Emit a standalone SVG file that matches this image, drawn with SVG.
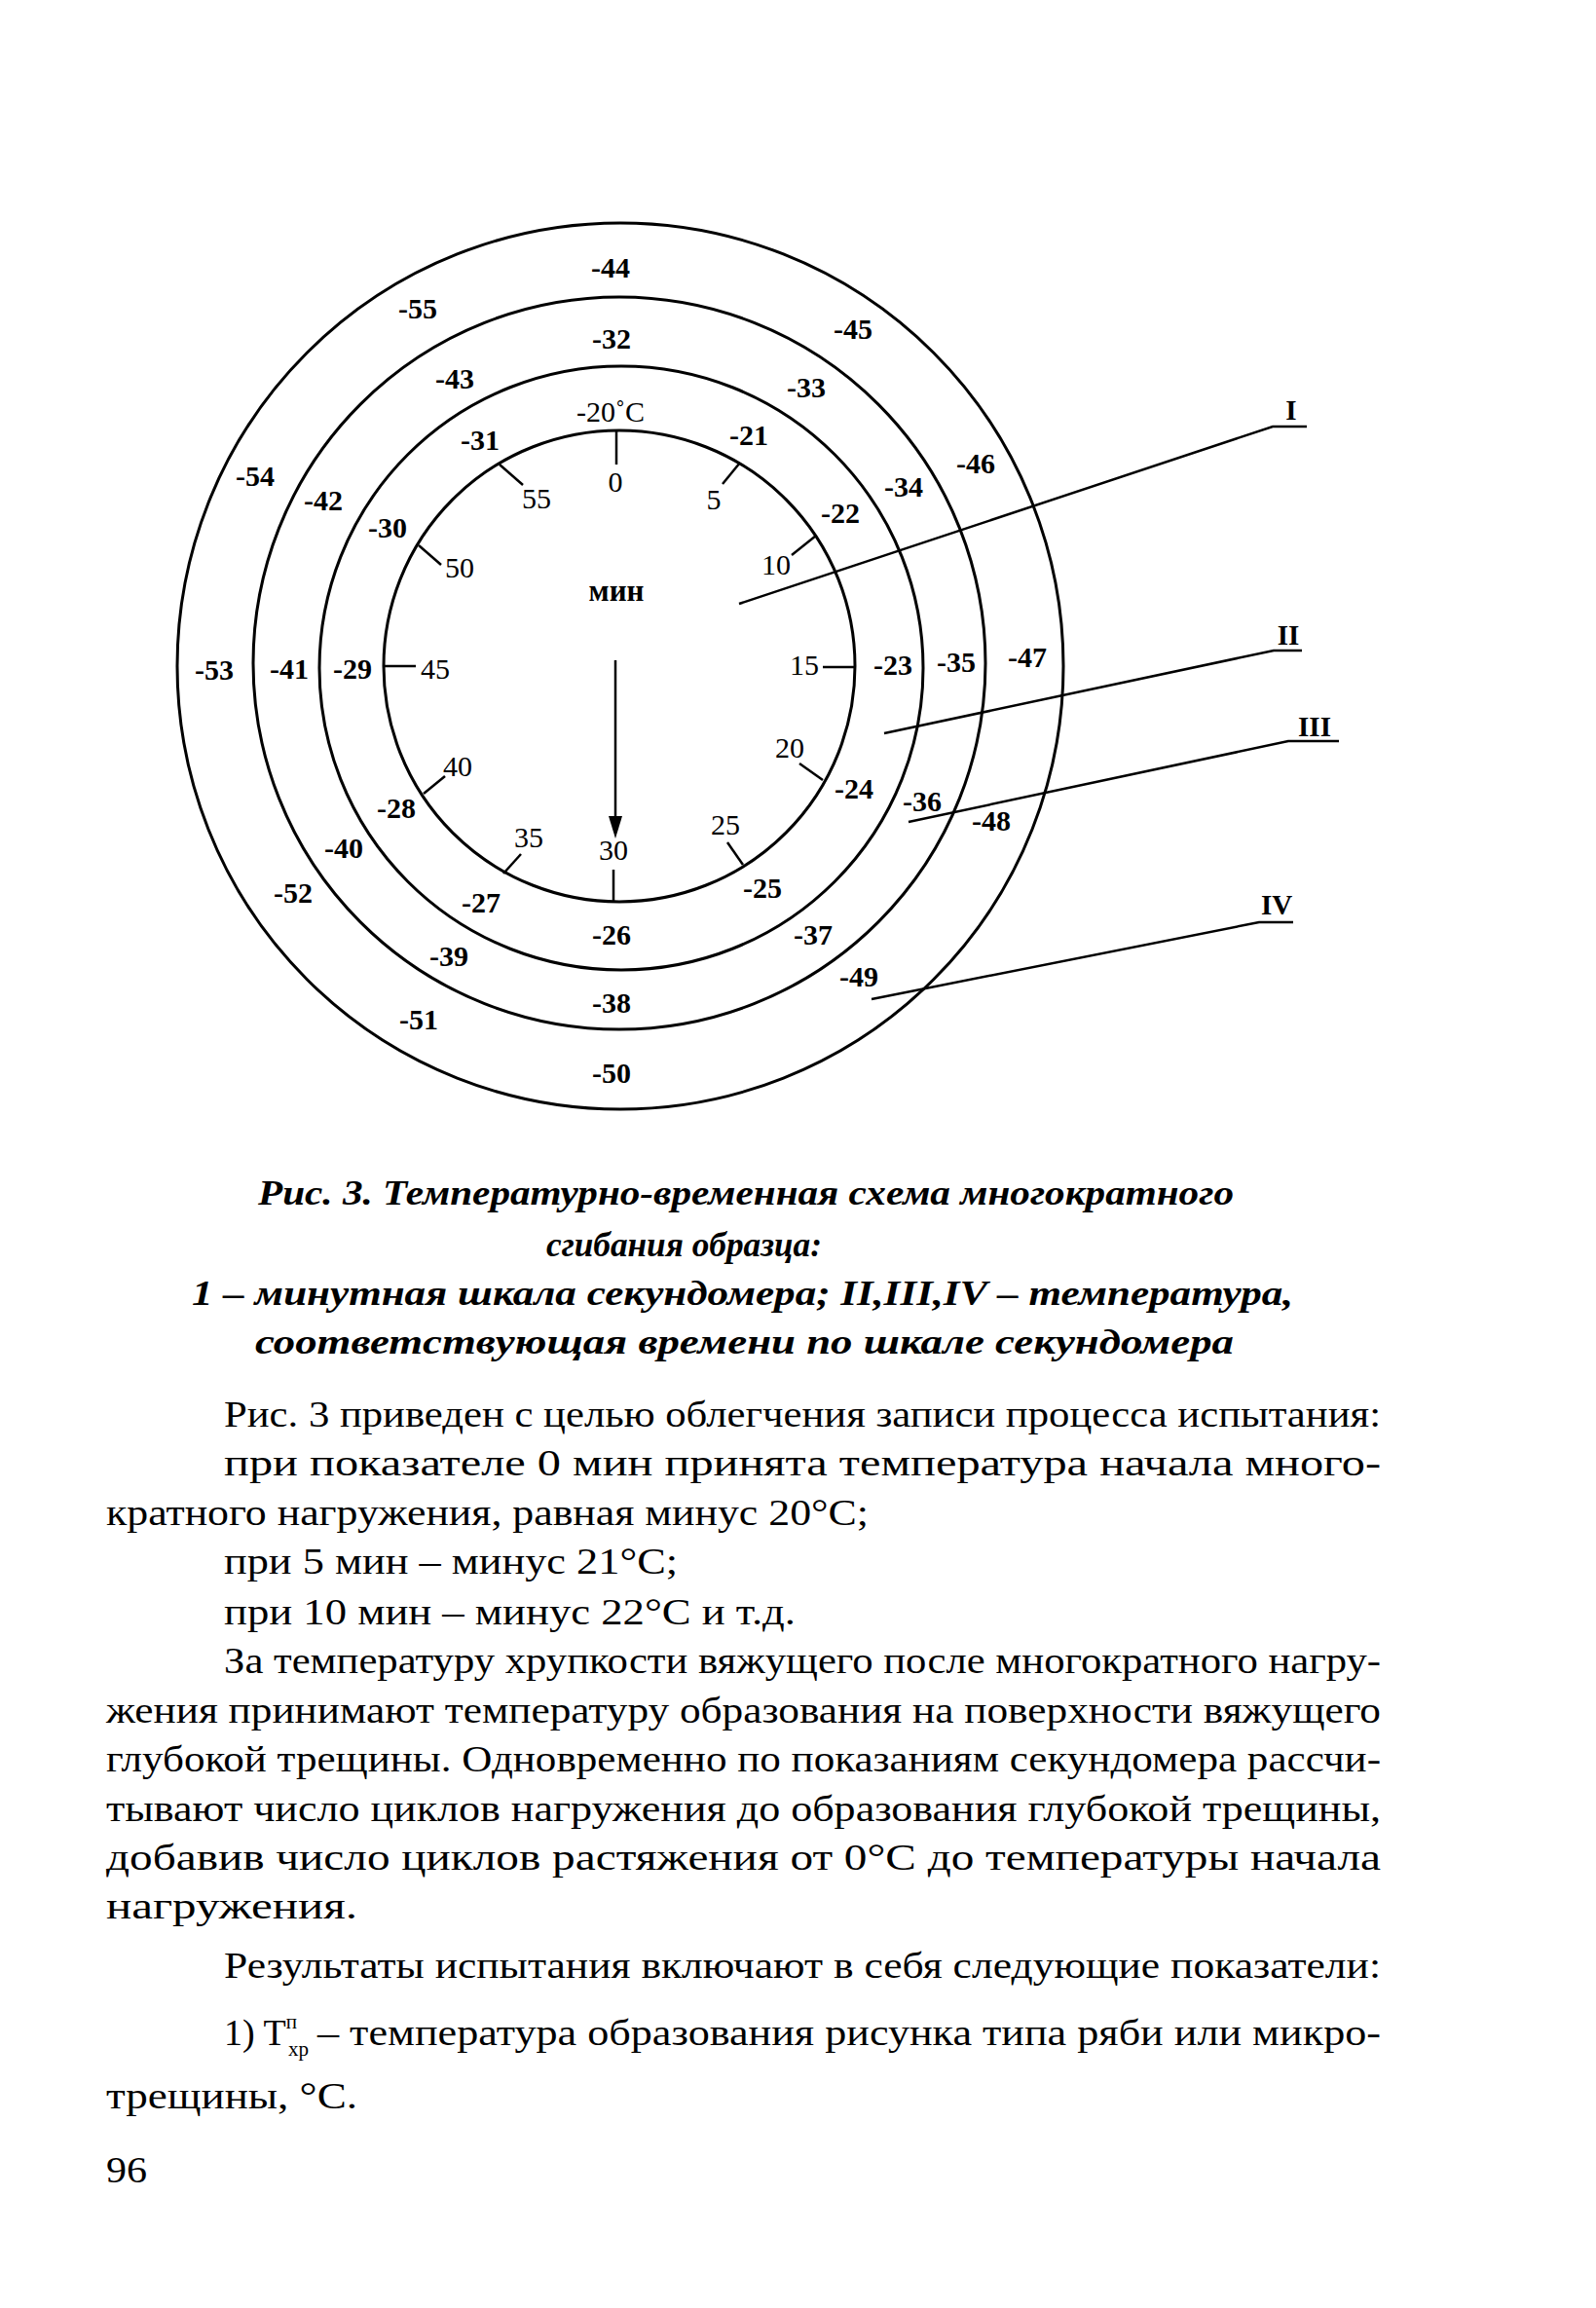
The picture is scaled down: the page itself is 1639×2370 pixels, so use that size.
<svg xmlns="http://www.w3.org/2000/svg" width="1639" height="2370" viewBox="0 0 1639 2370">
<style>
  .ring{fill:none;stroke:#000;stroke-width:3}
  .tick{stroke:#000;stroke-width:2.5;fill:none}
  .lead{stroke:#000;stroke-width:2.5;fill:none}
  .t{font-family:"Liberation Serif","Times New Roman",serif;fill:#000;text-anchor:middle}
  .neg{font-size:30px;font-weight:bold}
  .min{font-size:30px}
  .rom{font-size:29px;font-weight:bold}
  .cap{font-family:"Liberation Serif","Times New Roman",serif;font-size:36px;font-weight:bold;font-style:italic;fill:#000}
  .body{font-family:"Liberation Serif","Times New Roman",serif;font-size:38px;fill:#000}
  .sm{font-size:21px}
</style>
<rect width="1639" height="2370" fill="#fff"/>
<g id="circles">
  <circle id="c1" class="ring" cx="636" cy="684" r="242"/>
  <circle id="c2" class="ring" cx="638" cy="686" r="310"/>
  <circle id="c3" class="ring" cx="636" cy="681" r="376"/>
  <circle id="c4" class="ring" cx="637" cy="684" r="455"/>
</g>
<g id="minute-scale">
  <g class="tick">
    <line x1="633" y1="442" x2="633" y2="477"/>
    <line x1="760" y1="475" x2="742" y2="497"/>
    <line x1="838" y1="550" x2="813" y2="570"/>
    <line x1="845" y1="685" x2="877" y2="685"/>
    <line x1="845" y1="801" x2="821" y2="784"/>
    <line x1="763" y1="888" x2="747" y2="865"/>
    <line x1="630" y1="893" x2="630" y2="927"/>
    <line x1="517" y1="897" x2="535" y2="877"/>
    <line x1="435" y1="815" x2="457" y2="797"/>
    <line x1="395" y1="684" x2="427" y2="684"/>
    <line x1="430" y1="560" x2="453" y2="580"/>
    <line x1="513" y1="477" x2="537" y2="498"/>
  </g>
  <g class="t min">
    <text x="632" y="505">0</text>
    <text x="733" y="523">5</text>
    <text x="797" y="590">10</text>
    <text x="826" y="693">15</text>
    <text x="811" y="778">20</text>
    <text x="745" y="857">25</text>
    <text x="630" y="883">30</text>
    <text x="543" y="870">35</text>
    <text x="470" y="797">40</text>
    <text x="447" y="697">45</text>
    <text x="472" y="593">50</text>
    <text x="551" y="522">55</text>
  </g>
  <text class="t" x="633" y="617" style="font-size:31px;font-weight:bold">мин</text>
  <g id="arrow">
    <line class="tick" x1="632" y1="678" x2="632" y2="845"/>
    <polygon points="625,838 639,838 632,861" fill="#000"/>
  </g>
</g>
<g id="ring1-labels" class="t neg">
  <text x="627" y="433" style="font-weight:normal">-20˚C</text>
  <text x="769" y="457">-21</text>
  <text x="863" y="537">-22</text>
  <text x="917" y="693">-23</text>
  <text x="877" y="820">-24</text>
  <text x="783" y="922">-25</text>
  <text x="628" y="970">-26</text>
  <text x="494" y="937">-27</text>
  <text x="407" y="840">-28</text>
  <text x="362" y="697">-29</text>
  <text x="398" y="552">-30</text>
  <text x="493" y="462">-31</text>
</g>
<g id="ring2-labels" class="t neg">
  <text x="628" y="358">-32</text>
  <text x="828" y="408">-33</text>
  <text x="928" y="510">-34</text>
  <text x="982" y="690">-35</text>
  <text x="947" y="833">-36</text>
  <text x="835" y="970">-37</text>
  <text x="628" y="1040">-38</text>
  <text x="461" y="992">-39</text>
  <text x="353" y="881">-40</text>
  <text x="297" y="697">-41</text>
  <text x="332" y="524">-42</text>
  <text x="467" y="399">-43</text>
</g>
<g id="ring3-labels" class="t neg">
  <text x="627" y="285">-44</text>
  <text x="876" y="348">-45</text>
  <text x="1002" y="486">-46</text>
  <text x="1055" y="685">-47</text>
  <text x="1018" y="853">-48</text>
  <text x="882" y="1013">-49</text>
  <text x="628" y="1112">-50</text>
  <text x="430" y="1057">-51</text>
  <text x="301" y="927">-52</text>
  <text x="220" y="698">-53</text>
  <text x="262" y="499">-54</text>
  <text x="429" y="327">-55</text>
</g>
<g id="connectors">
  <polyline class="lead" points="759,620 1307,438 1342,438"/>
  <polyline class="lead" points="908,753 1308,668 1337,668"/>
  <polyline class="lead" points="933,844 1323,761 1375,761"/>
  <polyline class="lead" points="895,1026 1293,947 1328,947"/>
</g>
<g id="leader-labels" class="t rom">
  <text x="1326" y="431">I</text>
  <text x="1323" y="662">II</text>
  <text x="1350" y="756">III</text>
  <text x="1311" y="939">IV</text>
</g>
<g id="caption">
  <text class="cap" x="265" y="1237" textLength="1002" lengthAdjust="spacingAndGlyphs">Рис. 3. Температурно-временная схема многократного</text>
  <text class="cap" x="561" y="1290" textLength="283" lengthAdjust="spacingAndGlyphs">сгибания образца:</text>
  <text class="cap" x="197" y="1340" textLength="1131" lengthAdjust="spacingAndGlyphs">1 – минутная шкала секундомера; II,III,IV – температура,</text>
  <text class="cap" x="262" y="1390" textLength="1005" lengthAdjust="spacingAndGlyphs">соответствующая времени по шкале секундомера</text>
</g>
<g id="body-text">
  <text class="body" x="230" y="1465" textLength="1188" lengthAdjust="spacingAndGlyphs">Рис. 3 приведен с целью облегчения записи процесса испытания:</text>
  <text class="body" x="230" y="1515" textLength="1188" lengthAdjust="spacingAndGlyphs">при показателе 0 мин принята температура начала много-</text>
  <text class="body" x="109" y="1566" textLength="783" lengthAdjust="spacingAndGlyphs">кратного нагружения, равная минус 20°C;</text>
  <text class="body" x="230" y="1616" textLength="466" lengthAdjust="spacingAndGlyphs">при  5 мин – минус 21°C;</text>
  <text class="body" x="230" y="1668" textLength="587" lengthAdjust="spacingAndGlyphs">при  10 мин – минус 22°C и т.д.</text>
  <text class="body" x="230" y="1718" textLength="1188" lengthAdjust="spacingAndGlyphs">За температуру хрупкости вяжущего после многократного нагру-</text>
  <text class="body" x="109" y="1769" textLength="1309" lengthAdjust="spacingAndGlyphs">жения принимают температуру образования на поверхности вяжущего</text>
  <text class="body" x="109" y="1819" textLength="1309" lengthAdjust="spacingAndGlyphs">глубокой трещины. Одновременно по показаниям секундомера рассчи-</text>
  <text class="body" x="109" y="1870" textLength="1309" lengthAdjust="spacingAndGlyphs">тывают число циклов нагружения до образования глубокой трещины,</text>
  <text class="body" x="109" y="1920" textLength="1309" lengthAdjust="spacingAndGlyphs">добавив число циклов растяжения от 0°C до температуры начала</text>
  <text class="body" x="109" y="1970" textLength="258" lengthAdjust="spacingAndGlyphs">нагружения.</text>
  <text class="body" x="230" y="2031" textLength="1188" lengthAdjust="spacingAndGlyphs">Результаты испытания включают в себя следующие показатели:</text>
  <text class="body" x="230" y="2100">1) T<tspan class="sm" dy="-17">п</tspan><tspan class="sm" x="296" dy="28">хр</tspan><tspan x="326" dy="-11" textLength="1092" lengthAdjust="spacingAndGlyphs">– температура образования рисунка типа ряби или микро-</tspan></text>
  <text class="body" x="109" y="2165" textLength="258" lengthAdjust="spacingAndGlyphs">трещины, °C.</text>
  <text class="body" x="109" y="2241" textLength="42" lengthAdjust="spacingAndGlyphs">96</text>
</g>
</svg>
